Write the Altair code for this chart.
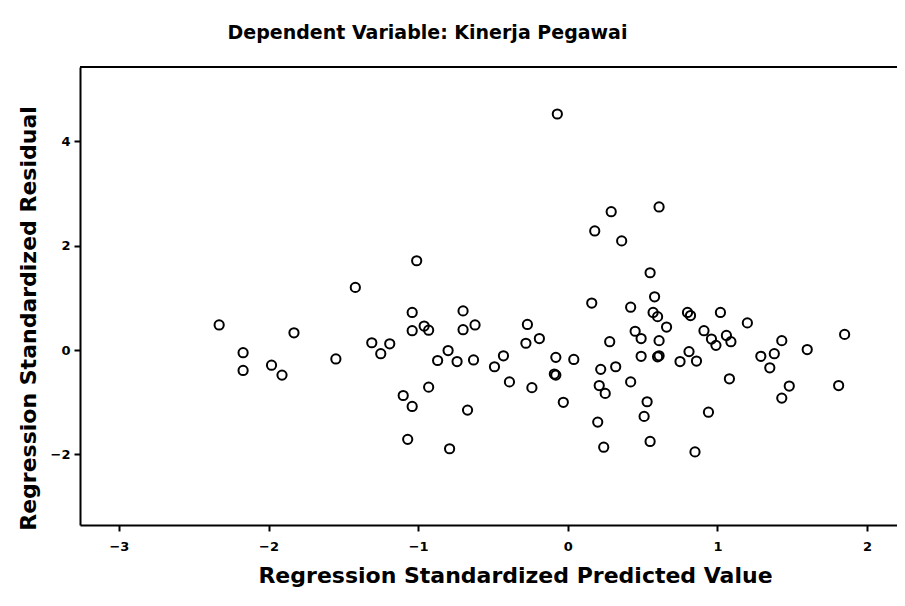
import altair as alt
import pandas as pd

# Regression Standardized Predicted Value
pred = [-2.33, -2.17, -2.17, -1.98, -1.91, -1.83, -1.55, -1.42, -1.31, -1.19,
        -1.25, -1.04, -1.04, -1.01, -0.96, -0.93, -0.87, -0.93, -1.10, -1.04,
        -1.07, -0.70, -0.70, -0.62, -0.80, -0.74, -0.63, -0.67, -0.79, -0.49,
        -0.43, -0.39, -0.27, -0.28, -0.19, -0.24, -0.08, -0.09, -0.08, 0.04,
        -0.03, -0.07, 0.16, 0.29, 0.61, 0.18, 0.36, 0.55, 0.42, 0.58,
        0.57, 0.60, 0.28, 0.22, 0.32, 0.21, 0.25, 0.42, 0.20, 0.24,
        0.45, 0.49, 0.66, 0.61, 0.49, 0.60, 0.61, 0.53, 0.51, 0.55,
        0.80, 0.82, 1.02, 1.20, 0.91, 0.96, 0.99, 1.06, 1.09, 0.81,
        0.75, 0.86, 1.08, 0.94, 0.85, 1.29, 1.43, 1.38, 1.35, 1.60,
        1.85, 1.48, 1.43, 1.81]

# Regression Standardized Residual
resid = [0.48, -0.05, -0.39, -0.29, -0.48, 0.33, -0.17, 1.20, 0.14, 0.12,
         -0.07, 0.37, 0.72, 1.71, 0.46, 0.38, -0.20, -0.71, -0.87, -1.08,
         -1.71, 0.75, 0.39, 0.48, -0.01, -0.22, -0.19, -1.15, -1.89, -0.32,
         -0.11, -0.61, 0.49, 0.13, 0.22, -0.72, -0.14, -0.46, -0.48, -0.18,
         -1.00, 4.52, 0.90, 2.65, 2.74, 2.28, 2.09, 1.48, 0.82, 1.02,
         0.72, 0.64, 0.16, -0.37, -0.32, -0.68, -0.83, -0.61, -1.38, -1.86,
         0.36, 0.22, 0.44, 0.18, -0.12, -0.13, -0.11, -0.99, -1.27, -1.75,
         0.72, 0.66, 0.72, 0.52, 0.37, 0.21, 0.09, 0.28, 0.16, -0.03,
         -0.22, -0.21, -0.55, -1.19, -1.95, -0.12, 0.18, -0.07, -0.34, 0.01,
         0.30, -0.69, -0.92, -0.68]

x_ticks = [-3, -2, -1, 0, 1, 2]
y_ticks = [-2, 0, 2, 4]

df = pd.DataFrame({"pred": pred, "resid": resid})

FONT = "DejaVu Sans"
W, H = 817, 458

points = alt.Chart(df).mark_point(
    shape="circle", filled=False, color="black", strokeWidth=2, size=85, opacity=1
).encode(
    x=alt.X("pred:Q", scale=alt.Scale(domain=[-3.26, 2.2], nice=False, zero=False),
            axis=alt.Axis(values=x_ticks, title="Regression Standardized Predicted Value",
                          titleX=435, titleY=57, titleAnchor="middle",
                          titleBaseline="alphabetic", labelPadding=9)),
    y=alt.Y("resid:Q", scale=alt.Scale(domain=[-3.35, 5.42], nice=False, zero=False),
            axis=alt.Axis(values=y_ticks, title="Regression Standardized Residual",
                          titleX=-40, titleY=251, titleAngle=270, titleAlign="center",
                          titleBaseline="bottom", labelPadding=4)),
)

top_line = alt.Chart(pd.DataFrame({"a": [0]})).mark_rule(
    color="black", strokeWidth=2
).encode(x=alt.value(0), x2=alt.value(W), y=alt.value(0))

chart = alt.layer(points, top_line).properties(
    width=W, height=H,
    autosize=alt.AutoSizeParams(type="none"),
    padding={"left": 72, "top": 59, "right": 0, "bottom": 65},
    title=alt.TitleParams("Dependent Variable: Kinerja Pegawai", font=FONT, fontSize=19,
                          fontWeight="bold", color="black", anchor="middle", dx=-61,
                          baseline="alphabetic", offset=8),
).configure_view(stroke=None).configure_axis(
    grid=False, domainColor="black", domainWidth=2, tickColor="black", tickWidth=2,
    tickSize=6, labelFont=FONT, labelFontWeight="bold", labelFontSize=13,
    labelColor="black", titleFont=FONT, titleFontWeight="bold", titleFontSize=22,
    titleColor="black"
)

chart.save("out.html", embed_options={"renderer": "svg", "actions": False})
